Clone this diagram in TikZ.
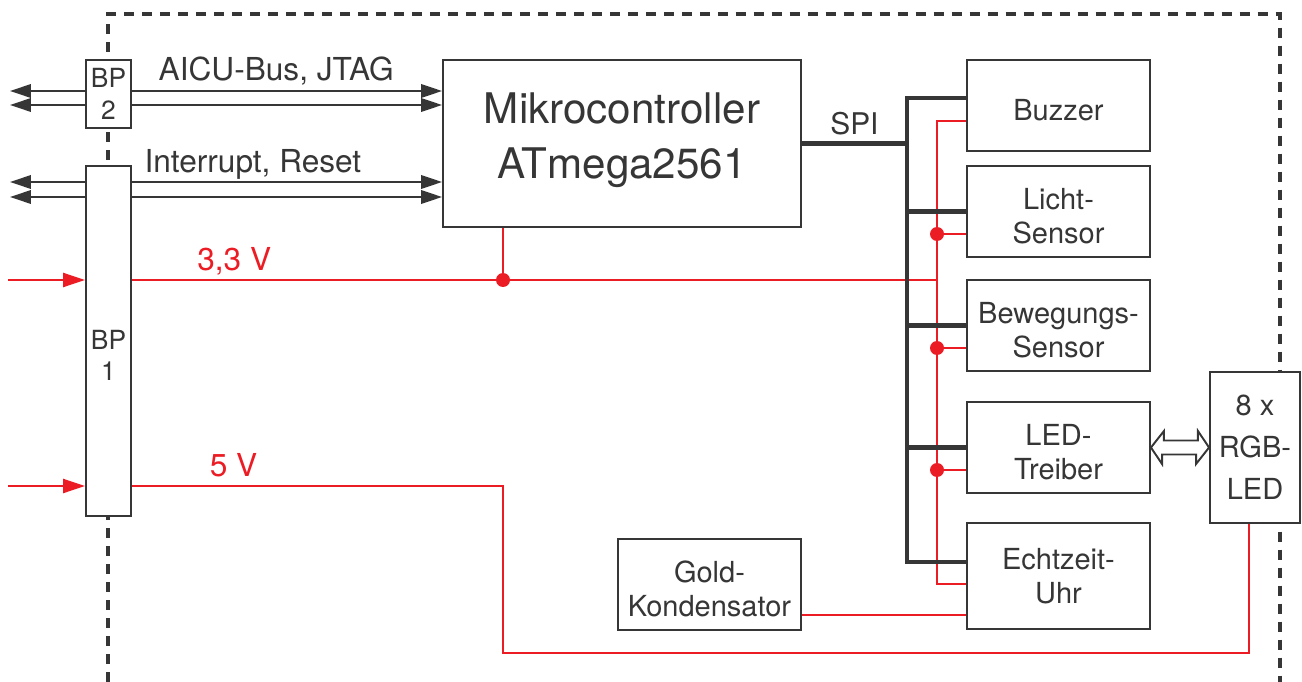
\documentclass[tikz,border=0pt]{standalone}
\usepackage{fontspec}
\setmainfont{TeX Gyre Heros}
\usepackage{xcolor}
\usepackage{tikz}
\usetikzlibrary{arrows.meta, positioning, calc}

\definecolor{dgray}{HTML}{363636}
\definecolor{pwrred}{HTML}{EC1C24}
\newcommand{\boxstrut}{\rule{0pt}{17.5pt}}

\begin{document}
\begin{tikzpicture}[x=0.02cm, y=-0.02cm,
    block/.style={rectangle, draw=dgray, fill=white, line width=1.1pt, text=dgray, align=center, inner sep=0pt, minimum width=3.66cm, minimum height=1.82cm, font=\fontsize{16.5}{19}\selectfont},
    plug/.style={block, minimum width=0.9cm, font=\fontsize{15}{18}\selectfont},
    sig/.style={draw=dgray, line width=1.1pt, -{Triangle[length=0.42cm, width=0.27cm]}},
    spi/.style={draw=dgray, line width=2.3pt},
    pwr/.style={draw=pwrred, line width=1.3pt},
    pwrin/.style={pwr, -{Triangle[length=0.44cm, width=0.28cm]}},
    lbl/.style={text=dgray, font=\fontsize{18}{21}\selectfont, anchor=base, yshift=0.2cm},
    frame/.style={draw=dgray, line width=1.8pt, dash pattern=on 0.2cm off 0.16cm}
]
    \useasboundingbox (0,0) rectangle (1302,682);

    % Gehaeuse
    \draw[frame] (108,682) -- (108,14) -- (1280,14) -- (1280,682);

    \node [plug, minimum height=1.36cm] (bp2) at (108.5,94) {BP\\2};
    \node [plug, minimum height=7cm] (bp1) at (108.5,341) {};
    \node [text=dgray, align=center, font=\fontsize{15}{18}\selectfont] (bp1lbl) at ($(bp1.center)+(0,14.5)$) {BP\\1};

    \node [block, minimum width=7.16cm, minimum height=3.34cm, font=\fontsize{24}{31}\selectfont, execute at end node={\rule[-9pt]{0pt}{9pt}}] (mc) at (622,143.5) {Mikrocontroller\\ATmega2561};

    \node [block] (buzzer) at (1058.5,105.5) {\boxstrut Buzzer};
    \node [block] (licht) at (1058.5,211.5) {\boxstrut Licht-\\Sensor};
    \node [block] (beweg) at (1058.5,325.5) {\boxstrut Bewegungs-\\Sensor};
    \node [block] (ledtr) at (1058.5,447.5) {\boxstrut LED-\\Treiber};
    \node [block, minimum height=2.12cm] (uhr) at (1058.5,576) {Echtzeit-\\Uhr};
    \node [block] (gold) at (709.5,584.5) {\boxstrut Gold-\\Kondensator};
    \node [block, minimum width=1.8cm, minimum height=3.02cm, font=\fontsize{16.5}{24}\selectfont] (rgb) at (1255,447.5) {8 x\\RGB-\\LED};

    \coordinate (aicu1) at (10,91);
    \coordinate (aicu2) at (10,105);
    \coordinate (irq1) at (10,182);
    \coordinate (irq2) at (10,197);
    \coordinate (in33) at (8,280);
    \coordinate (in5) at (8,486);
    \coordinate (j33) at (503,280);
    \coordinate (k5) at (503,653);
    \coordinate (vtop) at (937,121);
    \coordinate (vbot) at (937,584);
    \coordinate (spitop) at (907,98);
    \coordinate (spibot) at (907,562);

    % Signale
    \foreach \c/\bp in {aicu1/bp2, aicu2/bp2, irq1/bp1, irq2/bp1} {
        \path [sig] (\c -| \bp.west) -- (\c);
        \path [sig] (\c -| \bp.east) -- (\c -| mc.west);
    }
    \path (aicu1 -| bp2.east) -- node[lbl, pos=.465] {AICU-Bus, JTAG} (aicu1 -| mc.west);
    \path (irq1 -| bp1.east) -- node[lbl, pos=.39] {Interrupt, Reset} (irq1 -| mc.west);

    % Versorgung
    \path [pwrin] (in33) -- (in33 -| bp1.west);
    \path [pwrin] (in5) -- (in5 -| bp1.west);
    \path [pwr] (in33 -| bp1.east) -- node[lbl, text=pwrred, pos=.127] {3,3 V} (in33 -| vtop);
    \path [pwr] (j33) -- (j33 |- mc.south);
    \fill [pwrred] (j33) circle[radius=0.14cm];
    \path [pwr] (buzzer.west |- vtop) -- (vtop) -- (vbot) -- (uhr.west |- vbot);
    \foreach \b in {licht, beweg, ledtr} {
        \path [pwr] ($(\b.west)+(0,22.5)$) coordinate (t) -- (t -| vtop);
        \fill [pwrred] (t -| vtop) circle[radius=0.14cm];
    }
    \path [pwr] (in5 -| bp1.east) -- node[lbl, text=pwrred, pos=.274] {5 V} (in5 -| k5) -- (k5) -| ($(rgb.south)+(-6,0)$);
    \path [pwr] ($(gold.east)+(0,30.5)$) coordinate (gk) -- (gk -| uhr.west);

    % SPI-Bus
    \path [spi] (mc.east) -- node[lbl, font=\fontsize{17}{20}\selectfont, yshift=-0.01cm] {SPI} (mc.east -| spitop);
    \path [spi] (buzzer.west |- spitop) -- (spitop) -- (spibot) -- (uhr.west |- spibot);
    \foreach \b in {licht, beweg, ledtr}
        \path [spi] (\b.west) -- (\b.west -| spitop);

    % LED-Treiber <-> RGB-LED
    \draw [dgray, line width=1.1pt, fill=white] (ledtr.east) -- ++(13,-16.5) -- ++(0,9.5) -- ++(34,0) -- ++(0,-9.5) -- (rgb.west |- ledtr.east) -- ++(-13,16.5) -- ++(0,-9.5) -- ++(-34,0) -- ++(0,9.5) -- cycle;
\end{tikzpicture}
\end{document}
